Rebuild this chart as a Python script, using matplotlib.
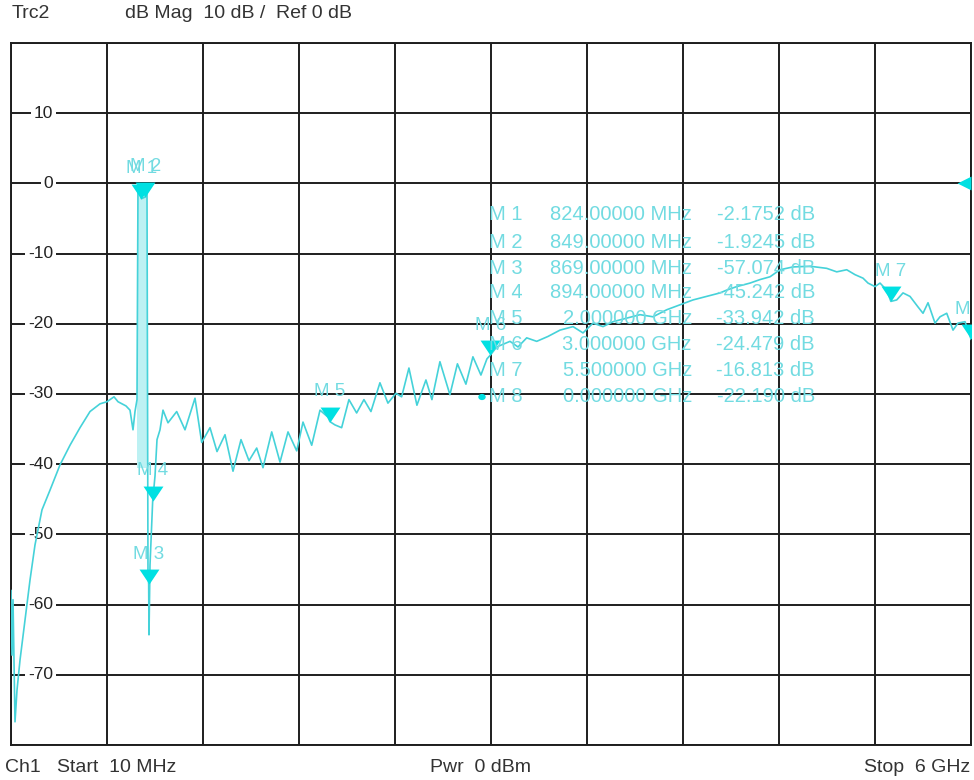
import matplotlib.pyplot as plt
from matplotlib import transforms

plt.rcParams['font.family'] = ['Liberation Sans', 'DejaVu Sans']

# trace (MHz, dB)
freq = [10, 16.2, 22.5, 35, 47.4, 66.2, 97.4, 128.6, 159.7, 203.4, 253.3, 315.7,
        378.1, 440.5, 502.9, 565.3, 609, 652.7, 677.6, 702.6, 727.5, 752.5, 771.2,
        783.7, 796.2, 802.4, 824, 849, 858.6, 864.8, 869, 871, 877.3, 894, 908.5,
        921, 939.7, 958.4, 989.6, 1043.9, 1095.7, 1158.1, 1199.9, 1251.7, 1295.4,
        1345.3, 1395.2, 1445.1, 1495, 1543.1, 1582.4, 1636.7, 1688.5, 1738.4,
        1792.7, 1832, 1886.3, 1938.1, 1988, 2000, 2031.2, 2073, 2118.6, 2166.6,
        2212.2, 2255.9, 2312, 2361.9, 2411.8, 2447.4, 2492.9, 2542.8, 2599, 2636.4,
        2686.3, 2748.7, 2795.5, 2848.5, 2892.2, 2942.1, 2979.6, 3000, 3040.6,
        3123.6, 3173.5, 3227.8, 3290.2, 3360.7, 3435.6, 3516.7, 3579.1, 3641.5,
        3703.9, 3766.3, 3851.8, 3934.8, 4015.9, 4101.4, 4184.4, 4265.5, 4351, 4434,
        4475.8, 4538.2, 4621.2, 4683.6, 4746, 4808.3, 4889.5, 4995.5, 5099.7,
        5162.1, 5224.5, 5276.3, 5326.2, 5357.4, 5401.1, 5432.3, 5474.1, 5500,
        5536.5, 5575.8, 5619.5, 5669.4, 5700.6, 5731.8, 5775.5, 5806.7, 5848.5,
        5887.8, 5919, 5962.7, 6000]
mag = [-58.0, -67.2, -59.3, -76.7, -72.2, -67.9, -62.2, -56.5, -51.5, -46.5, -43.7,
       -40.1, -37.3, -34.8, -32.5, -31.4, -31.1, -30.4, -31.1, -31.4, -31.7, -32.3,
       -35.1, -32.5, -30.8, -0.4, -2.18, -1.92, -0.9, -55.8, -57.07, -64.3, -54.4,
       -45.24, -41.7, -36.5, -35.1, -32.3, -34.1, -32.5, -35.1, -30.6, -36.9, -34.8,
       -38.2, -35.8, -41.0, -36.5, -39.5, -37.7, -40.5, -35.4, -39.7, -35.4, -38.1,
       -34.0, -37.3, -32.3, -33.3, -33.94, -34.4, -34.8, -30.8, -32.7, -30.8, -32.5,
       -28.4, -31.3, -29.9, -30.4, -26.3, -31.6, -28.0, -30.8, -25.4, -30.1, -25.7,
       -28.6, -24.7, -27.3, -25.0, -24.48, -23.3, -22.5, -23.3, -22.0, -22.5, -21.8,
       -20.9, -20.4, -21.3, -19.9, -20.4, -19.7, -19.2, -18.7, -19.0, -18.0, -17.3,
       -16.6, -16.1, -15.6, -15.2, -14.7, -14.2, -13.7, -13.3, -12.3, -11.9, -11.8,
       -12.1, -12.6, -12.3, -13.0, -13.5, -14.2, -14.7, -14.2, -15.2, -16.81, -16.6,
       -15.6, -16.1, -17.6, -18.5, -17.0, -19.9, -19.0, -18.5, -20.9, -19.9, -19.7,
       -22.19]

# dense passband region around M1/M2
band_f = [796, 861]
band_top = -0.3
band_bottom = -40.5

mk_names = ["M 1", "M 2", "M 3", "M 4", "M 5", "M 6", "M 7", "M 8"]
mk_freq = [824, 849, 869, 894, 2000, 3000, 5500, 6000]
mk_mag = [-2.1752, -1.9245, -57.074, -45.242, -33.942, -24.479, -16.813, -22.190]
list_freq = ["824.00000 MHz", "849.00000 MHz", "869.00000 MHz", "894.00000 MHz",
             "2.000000 GHz", "3.000000 GHz", "5.500000 GHz", "0.000000 GHz"]
list_mag = ["-2.1752 dB", "-1.9245 dB", "-57.074 dB", "-45.242 dB",
            "-33.942 dB", "-24.479 dB", "-16.813 dB", "-22.190 dB"]

ylabels = [10, 0, -10, -20, -30, -40, -50, -60, -70]

W, H = 974, 780
fig = plt.figure(figsize=(W / 100, H / 100), dpi=100)
ax = fig.add_axes([11 / W, 35 / H, 960 / W, 702 / H])

grid_c = '#1e1e1e'
trace_c = '#45d2d9'
mk_c = '#00e0e2'
txt_c = '#72dbe1'

ax.set_xlim(10, 6000)
ax.set_ylim(-80, 20)
ax.set_xticks([10 + i * 599 for i in range(11)])
ax.set_yticks(range(-80, 21, 10))
ax.tick_params(length=0, labelbottom=False, labelleft=False)
ax.grid(True, color=grid_c, lw=1.4)
for s in ax.spines.values():
    s.set_color(grid_c)
    s.set_linewidth(1.4)

ylab_tr = transforms.blended_transform_factory(ax.transAxes, ax.transData)
for v in ylabels:
    ax.text(42 / 960, v, str(v), transform=ylab_tr, ha='right', va='center',
            fontsize=12.5, color='#222222',
            bbox=dict(facecolor='white', edgecolor='none', pad=2))

ax.fill_between(band_f, band_bottom, band_top, color='#bdf1f3', lw=0, zorder=2)
ax.plot(freq, mag, color=trace_c, lw=1.2, zorder=3, solid_joinstyle='round')

# marker triangles, tip on the point
tri_down = [(-1, 1.5), (1, 1.5), (0, 0)]
ax.plot(mk_freq, mk_mag, ls='none', marker=tri_down, ms=21.5, color=mk_c,
        mew=0, zorder=4)
lab_tr = transforms.offset_copy(ax.transData, fig=fig, y=30, units='dots')
for n, f, m in zip(mk_names, mk_freq, mk_mag):
    ax.text(f, m, n, transform=lab_tr, ha='center', va='center', fontsize=13.5,
            color=txt_c, clip_on=True, zorder=5)

# reference level indicator
ax.plot([6000], [0], ls='none', marker=[(0, -1), (0, 1), (-2, 0)], ms=20,
        color=mk_c, mew=0, clip_on=False, zorder=4)

# marker table
rows_y = [215, 242, 268, 293, 319, 345, 371, 397]
for n, fq, mg, y in zip(mk_names, list_freq, list_mag, rows_y):
    yy = 1 - y / H
    fig.text(489 / W, yy, n, ha='left', va='center', fontsize=14.5, color=txt_c)
    fig.text(692 / W, yy, fq, ha='right', va='center', fontsize=14.5, color=txt_c)
    fig.text(815 / W, yy, mg, ha='right', va='center', fontsize=14.5, color=txt_c)
fig.patches.append(plt.Circle((482 / W, 1 - 397 / H), 3 / W, color=mk_c,
                              transform=fig.transFigure))

hdr_c = '#333333'
fig.text(12 / W, 1 - 14 / H, "Trc2", ha='left', va='center', fontsize=14, color=hdr_c)
fig.text(125 / W, 1 - 14 / H, "dB Mag  10 dB /  Ref 0 dB", ha='left', va='center',
         fontsize=14, color=hdr_c)
fig.text(5 / W, 1 - 767 / H, "Ch1", ha='left', va='center', fontsize=14, color=hdr_c)
fig.text(57 / W, 1 - 767 / H, "Start  10 MHz", ha='left', va='center', fontsize=14,
         color=hdr_c)
fig.text(430 / W, 1 - 767 / H, "Pwr  0 dBm", ha='left', va='center', fontsize=14,
         color=hdr_c)
fig.text(970 / W, 1 - 767 / H, "Stop  6 GHz", ha='right', va='center', fontsize=14,
         color=hdr_c)

fig.savefig('out.png', dpi=100)
